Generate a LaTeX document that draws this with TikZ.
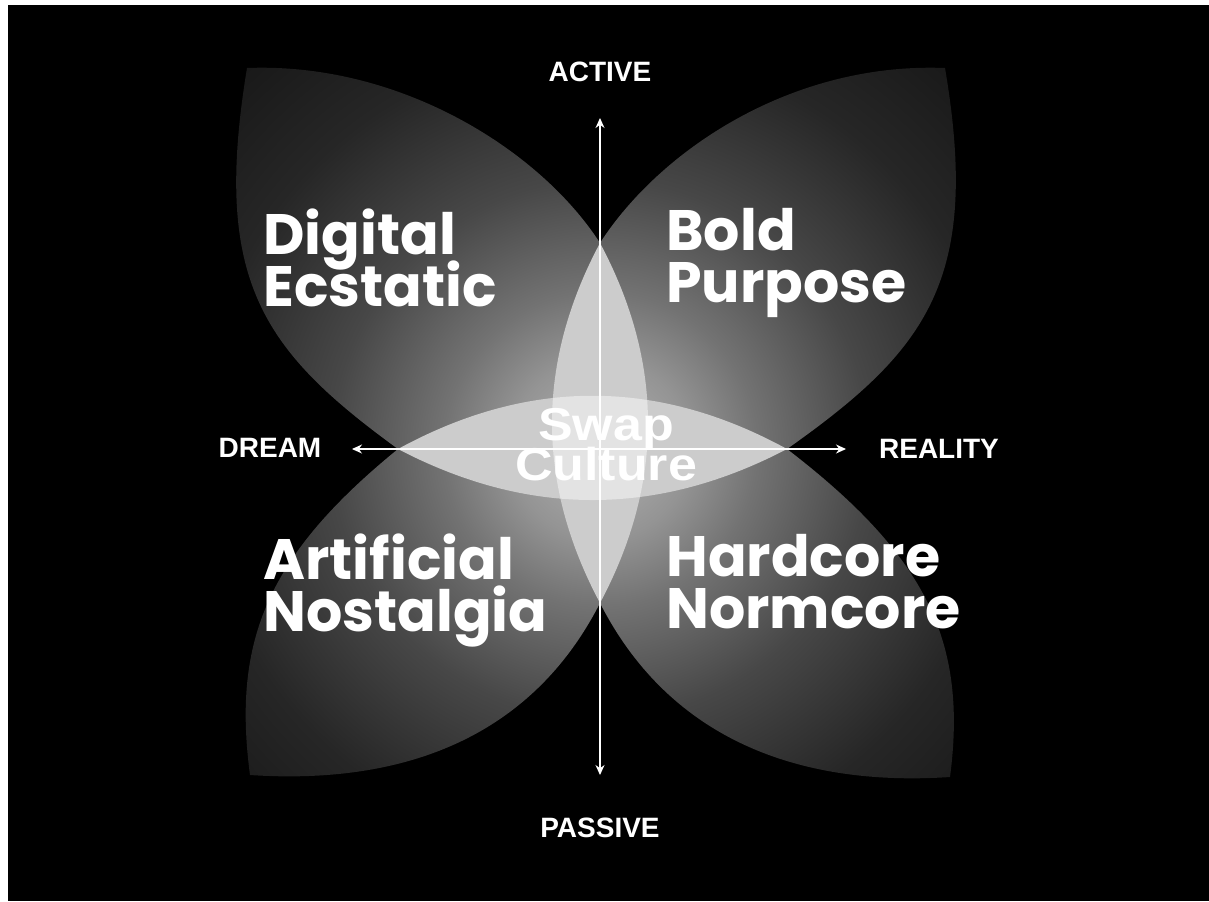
\documentclass[tikz,border=0pt]{standalone}
\usepackage{fontspec}
\setmainfont{Liberation Sans}
\newfontfamily\petalfont{Poppins}
\usetikzlibrary{arrows.meta}

% glow of every petal, bright at the middle
\pgfdeclareradialshading{petalglow}{\pgfpoint{0bp}{0bp}}{color(0bp)=(black!30); color(4bp)=(black!42); color(7bp)=(black!55); color(12bp)=(black!72); color(18bp)=(black!85); color(23bp)=(black!90); color(25bp)=(black!91); color(50bp)=(black!91)}
% two-line labels sit close together
\lineskiplimit=-100pt

\begin{document}
\begin{tikzpicture}[x=0.5pt, y=-0.5pt,
    axis/.style = {font=\bfseries\fontsize{14}{14}\selectfont, text=white, inner sep=0pt},
    petal/.style = {font=\petalfont\bfseries\fontsize{28.5}{26}\selectfont, text=white, align=left, anchor=north west, inner sep=0pt},
    swap/.style = {font=\bfseries\fontsize{23}{20}\selectfont, text=white, align=center, xscale=1.13, inner sep=0pt},
    axisline/.style = {white, line width=0.6pt, {Stealth[length=5pt,width=4.5pt]}-{Stealth[length=5pt,width=4.5pt]}},
    lens/.style = {fill=black!20},
    core/.style = {fill=black!11}]
    \useasboundingbox (0,0) rectangle (1209,901);
    % Background
    \fill[white] (0,0) rectangle (1209,901);
    \fill[black] (8,5) rectangle (1209,901);
    % Petals
    \begin{scope}
        \clip (247,68) .. controls (400,62) and (540,150) .. (600,243) -- (600,449) -- (398,449) .. controls (262,350) and (212,280) .. cycle;
        \shade[shading=petalglow] (40,-111) rectangle (1160,1009);
    \end{scope}
    \begin{scope}
        \clip (945,68) .. controls (792,62) and (660,150) .. (600,243) -- (600,449) -- (787,449) .. controls (927,350) and (981,280) .. cycle;
        \shade[shading=petalglow] (40,-111) rectangle (1160,1009);
    \end{scope}
    \begin{scope}
        \clip (250,775) .. controls (400,785) and (530,740) .. (600,603) -- (600,449) -- (398,449) .. controls (268,555) and (232,640) .. cycle;
        \shade[shading=petalglow] (40,-111) rectangle (1160,1009);
    \end{scope}
    \begin{scope}
        \clip (950,777) .. controls (800,787) and (670,740) .. (600,603) -- (600,449) -- (787,449) .. controls (925,555) and (968,640) .. cycle;
        \shade[shading=petalglow] (40,-111) rectangle (1160,1009);
    \end{scope}
    % Overlaps
    \fill[lens] (600,243) .. controls (664,363) and (664,483) .. (600,603) .. controls (536,483) and (536,363) .. cycle;
    \fill[lens] (398,449) .. controls (528,378) and (657,378) .. (787,449) .. controls (657,517) and (528,517) .. cycle;
    \begin{scope}
        \clip (600,243) .. controls (664,363) and (664,483) .. (600,603) .. controls (536,483) and (536,363) .. cycle;
        \fill[core] (398,449) .. controls (528,378) and (657,378) .. (787,449) .. controls (657,517) and (528,517) .. cycle;
    \end{scope}
    % Nodes
    \node[axis] (active) at (600,72) {ACTIVE};
    \node[axis] (passive) at (600,828) {PASSIVE};
    \node[axis] (dream) at (270,448) {DREAM};
    \node[axis] (reality) at (939,449) {REALITY};
    \coordinate (top) at (600,118);
    \coordinate (bottom) at (600,775);
    \coordinate (left) at (352,449);
    \coordinate (right) at (846,449);
    \node[petal] (digital) at (263,208) {Digital\\Ecstatic};
    \node[petal] (bold) at (666,208) {Bold\\Purpose};
    \node[petal] (artificial) at (263,533) {Artificial\\Nostalgia};
    \node[petal] (hardcore) at (666,534) {Hardcore\\Normcore};
    \node[swap] (swapc) at (606,445) {Swap\\Culture};
    % Axes
    \draw[axisline] (top) -- (bottom);
    \draw[axisline] (left) -- (right);
\end{tikzpicture}
\end{document}
